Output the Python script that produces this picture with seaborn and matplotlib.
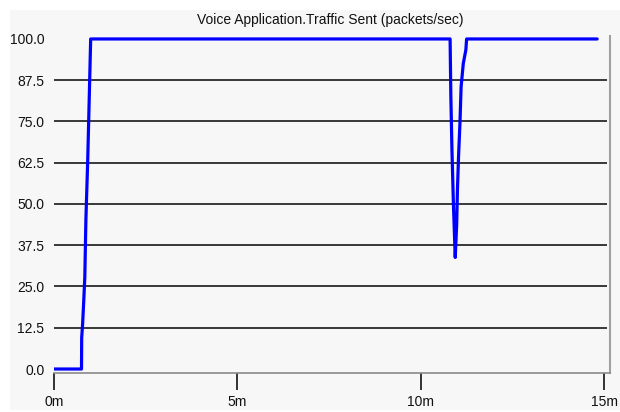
import matplotlib
matplotlib.use("Agg")
import matplotlib.pyplot as plt
from matplotlib.patches import Rectangle
import seaborn as sns
import pandas as pd

# Voice application traffic sent, sampled over the simulation run
time_min = [0.0, 0.75, 0.755, 0.78, 0.81, 0.84, 0.87, 0.92, 0.96, 1.0,
            10.80, 10.82, 10.85, 10.89, 10.94, 10.98, 11.0, 11.03, 11.07,
            11.10, 11.16, 11.23, 11.25, 14.81]
packets_per_sec = [0, 0, 9.5, 13.6, 20.4, 27.8, 45.4, 63.5, 81.7, 100,
                   100, 83.0, 66.6, 50.2, 33.8, 43.9, 54.2, 64.3, 74.9,
                   85.5, 92.6, 96.7, 100, 100]

y_ticks = [0.0, 12.5, 25.0, 37.5, 50.0, 62.5, 75.0, 87.5, 100.0]
x_ticks = [0, 5, 10, 15]
x_labels = ["0m", "5m", "10m", "15m"]
title = "Voice Application.Traffic Sent (packets/sec)"

sns.set_style("white")
plt.rcParams["font.family"] = ["Liberation Sans", "DejaVu Sans"]

panel = "#f7f7f7"
fig = plt.figure(figsize=(6.2, 4.12), dpi=100, facecolor="white")
fig.patches.append(Rectangle((10 / 620, 2 / 412), 610 / 620, 400 / 412,
                             transform=fig.transFigure, facecolor=panel,
                             edgecolor="none", zorder=-10))

ax = fig.add_axes([54 / 620, 1 - 373 / 412, (610 - 54) / 620, (373 - 36) / 412])
ax.set_facecolor(panel)

ax.set_xlim(0, 15.16)
ax.set_ylim(-1.21, 100.9)

# horizontal reference lines
for yv in y_ticks[1:-1]:
    ax.hlines(yv, 0, 15.09, color="#2a2a2a", lw=1.3, zorder=1)

df = pd.DataFrame({"t": time_min, "v": packets_per_sec})
sns.lineplot(data=df, x="t", y="v", ax=ax, color="#0000ff", lw=2.3,
             zorder=3, estimator=None, sort=False)

ax.set_yticks(y_ticks)
ax.set_yticklabels([f"{v:.1f}" for v in y_ticks])
ax.set_xticks(x_ticks)
ax.set_xticklabels(x_labels)
ax.set_xlabel("")
ax.set_ylabel("")

ax.tick_params(axis="y", left=False, length=0, pad=7, labelsize=10,
               colors="#111111")
ax.tick_params(axis="x", bottom=True, length=12, width=1.2, color="#111111",
               pad=4, labelsize=10, labelcolor="#111111", direction="out")

for side in ["left", "top"]:
    ax.spines[side].set_visible(False)
ax.spines["bottom"].set_color("#8a8a8a")
ax.spines["bottom"].set_linewidth(1.2)
ax.spines["right"].set_color("#a0a0a0")
ax.spines["right"].set_linewidth(1.5)

fig.text(330 / 620, 1 - 20 / 412, title, ha="center", va="center",
         fontsize=10, color="#111111")

fig.savefig("out.png", dpi=100, facecolor="white")
